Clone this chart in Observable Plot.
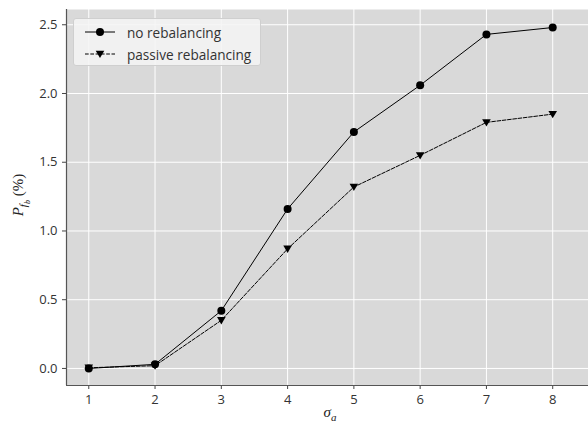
<!DOCTYPE html>
<html>
<head>
<meta charset="utf-8">
<script src="https://cdn.jsdelivr.net/npm/d3@7"></script>
<script src="https://cdn.jsdelivr.net/npm/@observablehq/plot@0.6"></script>
<style>
  body { margin: 0; background: #fff; }
  #wrap { position: relative; width: 588px; height: 424px; font-family: "Open Sans", sans-serif; overflow: hidden; }
  #legend { position: absolute; left: 73px; top: 18px; width: 186px; height: 46px; background: rgba(245,245,245,0.85); border: 1px solid #cfcfcf; border-radius: 3px; font-size: 13.6px; color: #333; white-space: nowrap; }
  .row { position: absolute; left: 0; height: 20px; display: flex; align-items: center; white-space: nowrap; }
  .row span { margin-left: 7px; }
  .lab { position: absolute; font-family: "Liberation Serif", serif; font-style: italic; color: #222; font-size: 15px; white-space: nowrap; }
</style>
</head>
<body>
<div id="wrap"></div>
<script>
const sigma = [1, 2, 3, 4, 5, 6, 7, 8];
const noRebalancing = [0.0, 0.03, 0.42, 1.16, 1.72, 2.06, 2.43, 2.48];
const passiveRebalancing = [0.005, 0.02, 0.35, 0.87, 1.32, 1.55, 1.79, 1.85];
const xTicks = [1, 2, 3, 4, 5, 6, 7, 8];
const yTicks = [0, 0.5, 1.0, 1.5, 2.0, 2.5];
const seriesNames = ["no rebalancing", "passive rebalancing"];

const rowsA = sigma.map((s, i) => ({x: s, y: noRebalancing[i]}));
const rowsB = sigma.map((s, i) => ({x: s, y: passiveRebalancing[i]}));

const triangleDown = {
  draw(context, size) {
    const r = Math.sqrt(size / Math.PI);
    context.moveTo(-r, -r * 0.75);
    context.lineTo(r, -r * 0.75);
    context.lineTo(0, r * 0.95);
    context.closePath();
  }
};

const chart = Plot.plot({
  width: 588,
  height: 424,
  marginLeft: 66,
  marginRight: 0,
  marginTop: 9,
  marginBottom: 39,
  style: {fontFamily: "Open Sans, sans-serif", fontSize: "13px", color: "#333", background: "transparent"},
  x: {domain: [0.664, 8.54], ticks: xTicks, tickFormat: d => d, label: null, tickSize: 4, tickPadding: 4},
  y: {domain: [-0.124, 2.611], ticks: yTicks, tickFormat: d => d.toFixed(1), label: null, tickSize: 4, tickPadding: 4},
  marks: [
    Plot.frame({fill: "#d9d9d9", stroke: null}),
    Plot.gridX(xTicks, {stroke: "#fff", strokeOpacity: 1, strokeWidth: 1}),
    Plot.gridY(yTicks, {stroke: "#fff", strokeOpacity: 1, strokeWidth: 1}),
    Plot.axisX(xTicks, {tickFormat: d => d, tickSize: 4, stroke: "#444", fill: "#333", label: null}),
    Plot.axisY(yTicks, {tickFormat: d => d.toFixed(1), tickSize: 4, stroke: "#444", fill: "#333", label: null}),
    Plot.ruleY([-0.124], {stroke: "#555", strokeWidth: 1.2}),
    Plot.ruleX([0.664], {stroke: "#555", strokeWidth: 1.2}),
    Plot.line(rowsB, {x: "x", y: "y", stroke: "#000", strokeWidth: 1, strokeDasharray: "3.7,1.6"}),
    Plot.dot(rowsB, {x: "x", y: "y", symbol: triangleDown, r: 4.3, fill: "#000", stroke: null}),
    Plot.line(rowsA, {x: "x", y: "y", stroke: "#000", strokeWidth: 1}),
    Plot.dot(rowsA, {x: "x", y: "y", symbol: "circle", r: 4, fill: "#000", stroke: null})
  ]
});

const wrap = document.getElementById("wrap");
chart.style.position = "absolute";
chart.style.left = "0";
chart.style.top = "0";
wrap.appendChild(chart);

// legend
const legend = document.createElement("div");
legend.id = "legend";
const samples = [
  `<svg width="40" height="20"><line x1="5" y1="10" x2="35" y2="10" stroke="#000" stroke-width="1"/><circle cx="20" cy="10" r="4" fill="#000"/></svg>`,
  `<svg width="40" height="20"><line x1="5" y1="10" x2="35" y2="10" stroke="#000" stroke-width="1" stroke-dasharray="3.7,1.6"/><path d="M15.7,6.8 L24.3,6.8 L20,14 Z" fill="#000"/></svg>`
];
seriesNames.forEach((name, i) => {
  const row = document.createElement("div");
  row.className = "row";
  row.style.top = (3 + i * 22) + "px";
  row.style.left = "6px";
  row.innerHTML = samples[i] + `<span>${name}</span>`;
  legend.appendChild(row);
});
wrap.appendChild(legend);

// axis labels
const ylab = document.createElement("div");
ylab.className = "lab";
ylab.innerHTML = `P<sub style="font-size:11px">f<sub style="font-size:8px">b</sub></sub> <span style="font-style:normal">(%)</span>`;
ylab.style.left = "-19px";
ylab.style.top = "184px";
ylab.style.width = "80px";
ylab.style.textAlign = "center";
ylab.style.transform = "rotate(-90deg)";
wrap.appendChild(ylab);

const xlab = document.createElement("div");
xlab.className = "lab";
xlab.innerHTML = `σ<sub style="font-size:11px">a</sub>`;
xlab.style.left = "310px";
xlab.style.top = "404px";
xlab.style.width = "40px";
xlab.style.textAlign = "center";
wrap.appendChild(xlab);
</script>
</body>
</html>
